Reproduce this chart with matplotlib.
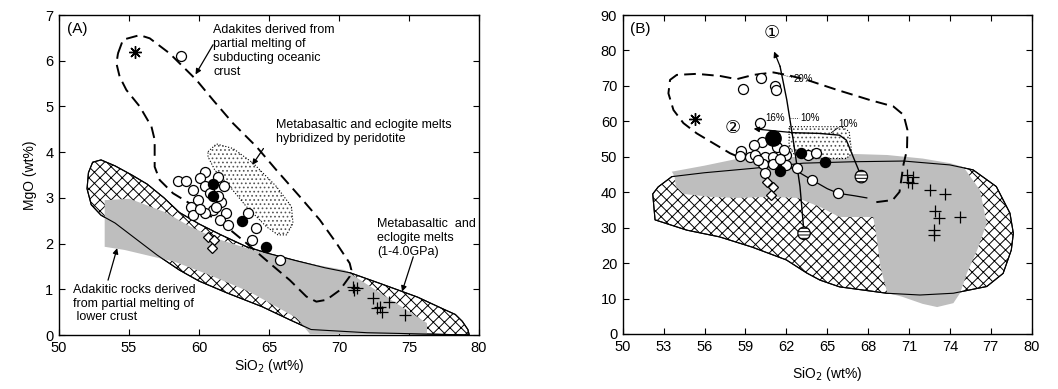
import matplotlib
matplotlib.use("Agg")
import matplotlib.pyplot as plt
from matplotlib.patches import Polygon

plt.rcParams['font.family'] = ['Liberation Sans', 'DejaVu Sans', 'Noto Sans CJK SC']
plt.rcParams['hatch.linewidth'] = 0.7

# ---------------- panel A data (SiO2 vs MgO) ----------------
a_open_x = [58.74, 58.5, 59.1, 60.4, 60.05, 61.36, 61.8, 59.6, 60.4, 61.6, 59.9, 59.45, 61.0,
            60.4, 59.57, 61.95, 61.5, 62.07, 61.36, 60.8, 63.5, 64.1, 63.8, 65.76, 60.1, 61.2]
a_open_y = [6.10, 3.36, 3.36, 3.57, 3.43, 3.46, 3.25, 3.17, 3.25, 2.92, 2.95, 2.81, 2.74,
            2.66, 2.63, 2.66, 2.52, 2.41, 3.05, 3.10, 2.66, 2.33, 2.08, 1.64, 2.75, 2.80]
a_fill_x = [61.0, 61.0, 63.07, 64.8]
a_fill_y = [3.30, 3.03, 2.50, 1.93]
a_diam_x = [60.64, 61.1, 60.9]
a_diam_y = [2.15, 2.08, 1.90]
a_star_x = [55.4]
a_star_y = [6.2]
a_plus_x = [71.1, 71.3, 71.0, 72.4, 72.9, 72.7, 73.1, 73.6, 74.7]
a_plus_y = [0.98, 1.02, 1.05, 0.80, 0.62, 0.58, 0.51, 0.73, 0.44]

# adakite field (dashed outline)
a_adakite_x = [54.21, 54.57, 55.76, 56.48, 57.90, 59.81, 61.0, 62.43, 64.1, 65.52, 67.19, 68.62,
               69.81, 70.76, 70.88, 70.76, 70.05, 69.1, 68.38, 67.67, 66.48, 65.05, 63.38, 61.95,
               60.52, 59.33, 58.14, 57.19, 56.83, 56.83, 56.6, 55.76, 54.81, 54.33, 54.1, 54.21]
a_adakite_y = [6.16, 6.46, 6.56, 6.49, 6.16, 5.58, 5.14, 4.63, 4.12, 3.61, 3.03, 2.52,
               2.01, 1.57, 1.42, 1.28, 0.98, 0.77, 0.73, 0.84, 1.20, 1.57, 2.01, 2.37,
               2.66, 2.88, 3.10, 3.39, 3.68, 4.27, 4.56, 5.0, 5.36, 5.65, 5.94, 6.16]
# hybridized melts (dotted ellipse)
a_hybrid_x = [60.64, 61.24, 62.43, 63.86, 65.52, 66.6, 66.71, 66.24, 65.64, 64.81, 63.38, 62.19, 61.12, 60.64]
a_hybrid_y = [4.01, 4.18, 4.08, 3.76, 3.25, 2.81, 2.44, 2.19, 2.19, 2.37, 2.81, 3.25, 3.61, 3.90]
# metabasaltic / eclogite melts (crosshatch)
a_eclog_x = [52.1, 52.4, 53.0, 54.0, 55.2, 56.3, 57.5, 58.6, 60.0, 61.5, 63.4, 65.0, 67.0, 69.0,
             70.8, 73.0, 75.6, 77.5, 78.3, 78.8, 79.2, 79.3,
             72.0, 68.0, 66.5, 64.5, 62.0, 60.0, 58.6, 57.0, 55.5, 54.0, 53.0, 52.3, 52.0]
a_eclog_y = [3.55, 3.78, 3.83, 3.70, 3.50, 3.30, 3.00, 2.68, 2.43, 2.20, 1.93, 1.78, 1.62, 1.47,
             1.36, 1.12, 0.83, 0.56, 0.45, 0.30, 0.12, 0.0,
             0.05, 0.12, 0.33, 0.62, 0.92, 1.18, 1.42, 1.75, 2.10, 2.45, 2.62, 2.85, 3.20]
# lower-crust adakitic rocks (grey)
a_lower_x = [53.26, 55.05, 57.55, 59.34, 61.12, 63.41, 67.20, 70.42, 76.28, 76.28, 67.92, 66.99,
             63.63, 60.77, 58.27, 56.48, 54.69, 53.26]
a_lower_y = [2.95, 2.98, 2.69, 2.38, 2.12, 1.90, 1.60, 1.42, 0.26, 0.02, 0.02, 0.37,
             0.94, 1.31, 1.60, 1.73, 1.86, 1.93]

# ---------------- panel B data (SiO2 vs Mg#) ----------------
b_open_x = [60.12, 58.8, 61.2, 61.22, 60.07, 60.2, 61.3, 59.6, 58.7, 58.6, 59.3, 59.7, 60.4, 61.05,
            62.0, 60.3, 61.05, 62.0, 60.4, 62.76, 63.6, 64.2, 63.86, 65.8, 61.8, 59.9, 61.5]
b_open_y = [72.3, 69.0, 70.0, 68.9, 59.6, 54.3, 52.9, 53.3, 51.5, 50.2, 50.0, 50.5, 50.0, 50.0,
            50.5, 47.9, 47.9, 47.7, 45.3, 46.8, 50.5, 51.0, 43.5, 39.7, 51.9, 49.0, 49.5]
b_fill_x = [63.1, 64.84, 61.5]
b_fill_y = [51.0, 48.4, 46.1]
b_big_x = [61.05]
b_big_y = [55.2]
b_hatch_x = [67.5, 63.3]
b_hatch_y = [44.4, 28.4]
b_diam_x = [60.56, 61.05, 60.9]
b_diam_y = [43.0, 41.6, 39.2]
b_star_x = [55.3]
b_star_y = [60.6]
b_plus_x = [70.83, 71.3, 71.2, 70.9, 72.54, 73.6, 72.9, 73.2, 74.74, 72.8, 72.8]
b_plus_y = [44.9, 44.4, 42.5, 43.0, 40.6, 39.5, 34.8, 32.6, 33.1, 29.4, 27.9]

b_adakite_x = [68.6, 69.8, 70.3, 70.6, 70.85, 70.88, 70.6, 69.85, 68.14, 65.7, 63.5, 62.03, 61.05,
               59.58, 58.36, 57.14, 55.43, 53.96, 53.47, 53.35, 53.72, 54.45, 55.43, 56.65, 57.87, 58.6]
b_adakite_y = [37.2, 37.8, 40.1, 48.0, 52.0, 57.6, 61.8, 64.2, 66.0, 68.9, 71.7, 73.1, 73.8,
               73.1, 71.9, 72.8, 73.4, 73.1, 71.7, 67.9, 63.2, 59.5, 56.6, 53.8, 51.0, 49.8]
b_trend_x = [62.0, 63.86, 65.0, 65.8, 67.0, 67.9]
b_trend_y = [47.7, 43.5, 41.0, 39.7, 39.0, 38.4]
b_path1_x = [63.3, 63.0, 62.5, 62.03, 61.54, 61.1]
b_path1_y = [28.4, 41.6, 54.8, 66.1, 75.5, 79.7]
b_path2_x = [67.5, 66.9, 66.4, 65.9, 64.4, 62.5, 59.6]
b_path2_y = [44.4, 50.0, 54.7, 56.1, 56.6, 56.8, 57.9]
b_hybrid_x = [62.2, 66.0, 66.6, 66.8, 66.4, 63.5, 62.6, 62.2]
b_hybrid_y = [58.5, 58.5, 57.2, 51.0, 49.5, 49.5, 50.5, 53.0]
b_eclog_x = [52.2, 52.6, 53.6, 56.0, 59.58, 63.25, 66.9, 70.6, 74.0, 75.7, 77.4, 78.4, 78.65, 78.5,
             77.9, 76.7, 74.25, 71.8, 69.36, 65.9, 64.47, 63.5, 62.0, 59.5, 57.1, 54.7, 52.37]
b_eclog_y = [39.5, 41.5, 44.4, 45.5, 46.75, 48.2, 48.6, 48.8, 47.7, 46.3, 41.6, 34.1, 28.4, 23.7,
             17.1, 13.4, 11.5, 11.0, 11.5, 13.3, 15.2, 17.2, 20.9, 24.5, 27.4, 29.3, 32.2]
b_lower_x = [53.6, 56.0, 58.5, 63.0, 66.9, 69.4, 72.0, 74.0, 75.0, 76.2, 76.7, 76.0, 75.25, 74.75,
             74.25, 73.06, 72.0, 70.5, 69.4, 68.9, 68.65, 68.37, 65.9, 64.5, 62.8, 60.8, 58.4,
             56.4, 54.5, 53.9, 53.8]
b_lower_y = [45.8, 47.5, 49.5, 50.0, 50.8, 50.5, 49.5, 48.2, 47.1, 40.6, 31.3, 23.7, 17.2, 11.6,
             8.7, 7.6, 8.5, 10.5, 11.6, 18.9, 26.5, 33.0, 33.0, 35.8, 38.4, 38.7, 38.4,
             38.7, 39.5, 41.5, 44.5]

GREY = '#bebebe'
DASH = (0, (6, 3.2))


def fields(ax, eclog, lower, hybrid):
    ax.add_patch(Polygon(list(zip(*eclog)), closed=True, facecolor='white', edgecolor='black',
                         hatch='xxx', lw=0.8, zorder=1))
    ax.add_patch(Polygon(list(zip(*lower)), closed=True, facecolor=GREY, edgecolor='none', zorder=2))
    ax.add_patch(Polygon(list(zip(*eclog)), closed=True, fill=False, edgecolor='black', lw=0.8, zorder=3))
    # stippled field: fine grey dots, dotted outline
    ax.add_patch(Polygon(list(zip(*hybrid)), closed=True, facecolor='white', edgecolor='#555555',
                         hatch='....', lw=0, zorder=3))
    ax.add_patch(Polygon(list(zip(*hybrid)), closed=True, fill=False, edgecolor='black',
                         lw=0.8, ls=':', zorder=3))


def markers(ax, op, fi, di, st, pl, ms=7.2):
    ax.plot(*op, 'o', ms=ms, mfc='white', mec='black', mew=0.9, ls='none', zorder=6)
    ax.plot(*fi, 'o', ms=ms, mfc='black', mec='black', ls='none', zorder=7)
    ax.plot(*di, 'D', ms=5.5, mfc='white', mec='black', mew=0.9, ls='none', zorder=6)
    ax.plot(*st, marker=(8, 2, 0), ms=9, color='black', mew=1.0, ls='none', zorder=6)
    ax.plot(*pl, '+', ms=8, color='black', mew=0.9, ls='none', zorder=6)


def arrow(ax, tail, tip, fs=8):
    ax.annotate('', xy=tip, xytext=tail, zorder=8,
                arrowprops=dict(arrowstyle='-|>', color='black', lw=0.9, mutation_scale=fs,
                                shrinkA=0, shrinkB=0))


fig = plt.figure(figsize=(10.58, 3.89), dpi=100)
axA = fig.add_axes([0.0558, 0.1388, 0.397, 0.8226])
axB = fig.add_axes([0.5886, 0.1414, 0.3866, 0.8200])

# ---- panel A ----
fields(axA, (a_eclog_x, a_eclog_y), (a_lower_x, a_lower_y), (a_hybrid_x, a_hybrid_y))
axA.plot(a_adakite_x, a_adakite_y, color='black', lw=1.4, ls=DASH, zorder=4)
markers(axA, (a_open_x, a_open_y), (a_fill_x, a_fill_y), (a_diam_x, a_diam_y),
        (a_star_x, a_star_y), (a_plus_x, a_plus_y))

axA.text(50.6, 6.85, '(A)', fontsize=11, va='top', ha='left')
axA.text(61.0, 6.80, 'Adakites derived from\npartial melting of\nsubducting oceanic\ncrust',
         fontsize=9, va='top', ha='left')
arrow(axA, (61.0, 6.35), (59.75, 5.70))
axA.text(65.5, 4.72, 'Metabasaltic and eclogite melts\nhybridized by peridotite',
         fontsize=9, va='top', ha='left')
arrow(axA, (64.6, 4.08), (63.8, 3.72))
axA.text(72.7, 2.55, 'Metabasaltic  and\neclogite melts\n(1-4.0GPa)', fontsize=9, va='top', ha='left')
arrow(axA, (75.3, 1.71), (74.5, 0.95))
axA.text(51.0, 1.12, 'Adakitic rocks derived\nfrom partial melting of\n lower crust',
         fontsize=9, va='top', ha='left')
arrow(axA, (53.5, 1.20), (54.15, 1.90))

axA.set_xlim(50, 80)
axA.set_ylim(0, 7)
axA.set_xticks(range(50, 81, 5))
axA.set_yticks(range(0, 8))
axA.set_xlabel('SiO$_2$ (wt%)', fontsize=10, labelpad=2)
axA.set_ylabel('MgO (wt%)', fontsize=10, labelpad=6)

# ---- panel B ----
fields(axB, (b_eclog_x, b_eclog_y), (b_lower_x, b_lower_y), (b_hybrid_x, b_hybrid_y))
axB.plot(b_adakite_x, b_adakite_y, color='black', lw=1.4, ls=DASH, zorder=4)
axB.plot(b_trend_x, b_trend_y, color='black', lw=0.9, zorder=4)
axB.plot(b_path1_x[:-1], b_path1_y[:-1], color='black', lw=1.0, zorder=5)
arrow(axB, (b_path1_x[-2], b_path1_y[-2]), (b_path1_x[-1], b_path1_y[-1]))
axB.plot(b_path2_x[:-1], b_path2_y[:-1], color='black', lw=1.0, zorder=5)
arrow(axB, (b_path2_x[-2], b_path2_y[-2]), (b_path2_x[-1], b_path2_y[-1]))
markers(axB, (b_open_x, b_open_y), (b_fill_x, b_fill_y), (b_diam_x, b_diam_y),
        (b_star_x, b_star_y), (b_plus_x, b_plus_y))
axB.plot(b_big_x, b_big_y, 'o', ms=11, color='black', ls='none', zorder=7)
axB.scatter(b_hatch_x, b_hatch_y, s=80, facecolor='white', edgecolor='black', hatch='-----',
            lw=0.9, zorder=7)

axB.text(50.55, 88.0, '(B)', fontsize=11, va='top', ha='left')
axB.text(60.93, 84.9, '①', fontsize=13, ha='center', va='center',
         family=['DejaVu Sans', 'Noto Sans CJK SC'])
axB.text(58.07, 58.0, '②', fontsize=13, ha='center', va='center',
         family=['DejaVu Sans', 'Noto Sans CJK SC'])
axB.plot([61.4, 62.5], [73.4, 72.3], color='black', lw=0.6, ls=':', zorder=5)
axB.text(62.55, 72.0, '20%', fontsize=7, ha='left', va='center')
axB.text(61.2, 60.9, '16%', fontsize=7, ha='center', va='center')
axB.plot([62.3, 62.95], [61.0, 61.0], color='black', lw=0.6, ls=':', zorder=5)
axB.text(63.0, 61.0, '10%', fontsize=7, ha='left', va='center')
axB.plot([65.3, 65.8], [56.8, 58.2], color='black', lw=0.6, zorder=5)
axB.text(65.8, 59.2, '10%', fontsize=7, ha='left', va='center')

axB.set_xlim(50, 80)
axB.set_ylim(0, 90)
axB.set_xticks(range(50, 81, 3))
axB.set_yticks(range(0, 91, 10))
axB.set_xlabel('SiO$_2$ (wt%)', fontsize=10, labelpad=8)

for ax in (axA, axB):
    ax.tick_params(direction='in', top=True, right=True, length=4, width=0.8, labelsize=10.5, pad=4)
    for s in ax.spines.values():
        s.set_linewidth(1.0)

fig.savefig('out.png', dpi=100)
